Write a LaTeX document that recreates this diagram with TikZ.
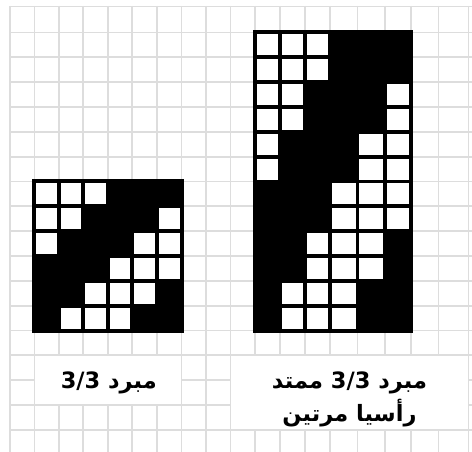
\documentclass[tikz,border=0pt]{standalone}
\usepackage{fontspec}
\newfontfamily\arabicfont[Script=Arabic]{DejaVu Sans}
\TeXXeTstate=1
\definecolor{gridc}{RGB}{221,221,221}
\tikzset{
  gridline/.style={draw=gridc, line width=1.8pt},
  lbl/.style={font=\arabicfont\bfseries\fontsize{22.5}{26}\selectfont, inner sep=0pt, text=black, anchor=base},
  whitecell/.style={fill=white},
  matbox/.style={fill=black},
  labelbox/.style={fill=white}
}
\begin{document}
\begin{tikzpicture}[x=1pt, y={(0pt,-1pt)}]
\useasboundingbox (0,0) rectangle (472,452);
\fill[white] (0,0) rectangle (472,452);
% grid
\foreach \x in {10,34.4,58.9,83.3,107.8,132.2,156.7,181.5,206,230.5,255,280,305,330,357.5,385,411,438.5,468.5}
  \draw[gridline] (\x,6) -- (\x,452);
\foreach \y in {6.5,32.5,57.3,82.2,107,131.8,156.7,181.5,206.3,231.2,256,280.8,305.7,330.5,355.3,380.2,405,429.8}
  \draw[gridline] (10,\y) -- (472,\y);
% label boxes (merged cells)
\fill[labelbox] (35.3,356.2) rectangle (180.6,404.1);
\fill[labelbox] (231.4,356.2) rectangle (467.6,428.9);
% arrays
\def\SX{{34.4,58.9,83.3,107.8,132.2,156.7,181.5}}
\def\SY{{181.5,206.3,231.2,256,280.8,305.7,330.5}}
\def\LX{{255,280,305,330,357.5,385,411}}
\def\LY{{32.5,57.3,82.2,107,131.8,156.7,181.5,206.3,231.2,256,280.8,305.7,330.5}}
% small matrix
\fill[matbox] (32,179.1) rectangle (183.9,332.9);
\foreach \c/\r in {1/1,2/1,3/1,1/2,2/2,6/2,1/3,5/3,6/3,4/4,5/4,6/4,3/5,4/5,5/5,2/6,3/6,4/6}{
  \pgfmathsetmacro\xa{\SX[\c-1]+1.9}
  \pgfmathsetmacro\xb{\SX[\c]-1.9}
  \pgfmathsetmacro\ya{\SY[\r-1]+1.9}
  \pgfmathsetmacro\yb{\SY[\r]-1.9}
  \fill[whitecell] (\xa,\ya) rectangle (\xb,\yb);
}
% large matrix (rows doubled)
\fill[matbox] (252.6,30.1) rectangle (413.4,332.9);
\foreach \c/\r in {1/1,2/1,3/1,1/2,2/2,6/2,1/3,5/3,6/3,4/4,5/4,6/4,3/5,4/5,5/5,2/6,3/6,4/6}{
  \foreach \k in {0,1}{
    \pgfmathsetmacro\xa{\LX[\c-1]+1.9}
    \pgfmathsetmacro\xb{\LX[\c]-1.9}
    \pgfmathsetmacro\ya{\LY[2*\r-2+\k]+1.9}
    \pgfmathsetmacro\yb{\LY[2*\r-1+\k]-1.9}
    \fill[whitecell] (\xa,\ya) rectangle (\xb,\yb);
  }
}
% labels
\node[lbl] (t1) at (108.8,388.3) {\beginR مبرد \beginL3/3\endL\endR};
\node[lbl] (t2) at (349.5,388) {\beginR مبرد \beginL3/3\endL{} ممتد\endR};
\node[lbl] (t3) at (349.5,421.5) {\beginR رأسيا مرتين\endR};
\end{tikzpicture}
\end{document}
